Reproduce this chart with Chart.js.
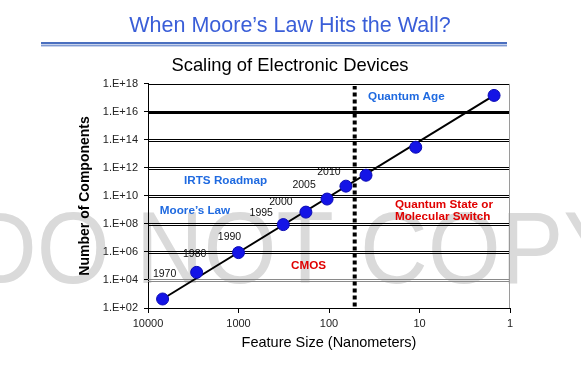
<!DOCTYPE html>
<html>
<head>
<meta charset="utf-8">
<title>When Moore's Law Hits the Wall?</title>
<script src="https://cdn.jsdelivr.net/npm/chart.js@4.4.1/dist/chart.umd.min.js"></script>
<style>
    body { margin: 0; background: #fff; }
    #wrap { width: 581px; height: 384px; }
</style>
</head>
<body>
<div id="wrap"><canvas id="mooreChart" width="581" height="384"></canvas></div>
<script>
// values: feature size (nm) vs number of components
const years = ['1970', '1980', '1990', '1995', '2000', '2005', '2010', '', '', ''];
const featureSize = [6900, 2900, 1000, 320, 180, 105, 65, 39, 11, 1.5];
const components = [440, 3.5e4, 9e5, 9e7, 7e8, 6e9, 5e10, 3e11, 3e13, 1.5e17];

// straight trend line (end points)
const fitSize = [6900, 1.5];
const fitComponents = [440, 1.5e17];

// the wall
const wallSize = 52;
const wallComponents = [1.3e2, 7e17];

const xTicks = [10000, 1000, 100, 10, 1];
const xTickLabels = ['10000', '1000', '100', '10', '1'];
const yTicks = [1e2, 1e4, 1e6, 1e8, 1e10, 1e12, 1e14, 1e16, 1e18];
const yTickLabels = ['1.E+02', '1.E+04', '1.E+06', '1.E+08', '1.E+10', '1.E+12', '1.E+14', '1.E+16', '1.E+18'];

const FONT = "'Liberation Sans', Arial, sans-serif";
const BLUE_TEXT = '#1f6ae0';
const RED_TEXT = '#e00000';

// region annotations, placed in data coordinates
const regions = [
    { lines: ['Quantum Age'], x: 37, y: 1.2e17, color: BLUE_TEXT },
    { lines: ['IRTS Roadmap'], x: 4000, y: 1.2e11, color: BLUE_TEXT },
    { lines: ['Moore\u2019s Law'], x: 7400, y: 8.5e8, color: BLUE_TEXT },
    { lines: ['Quantum State or', 'Molecular Switch'], x: 18.7, y: 2.3e9, color: RED_TEXT },
    { lines: ['CMOS'], x: 263, y: 1e5, color: RED_TEXT }
];

// where each year label sits relative to its point (px)
const labelOffsets = [[2, -25], [-2, -18], [-9, -16], [-22, -11], [-25, -10], [-23, -14], [-17, -14]];

const watermark = {
    id: 'watermark',
    beforeDraw(chart) {
        const ctx = chart.ctx;
        ctx.save();
        ctx.fillStyle = '#dadada';
        ctx.font = '102px ' + FONT;
        ctx.textBaseline = 'alphabetic';
        ctx.textAlign = 'left';
        ctx.translate(-31, 283);
        ctx.scale(0.92, 1);
        ctx.fillText('DO NOT COPY', 0, 0);
        ctx.restore();

        // double rule under the slide title
        ctx.save();
        ctx.fillStyle = '#4a6fbf';
        ctx.fillRect(41, 42, 466, 2.3);
        ctx.fillRect(41, 45.3, 466, 1);
        ctx.restore();
    }
};

const gridLines = {
    id: 'gridLines',
    beforeDatasetsDraw(chart) {
        const ctx = chart.ctx;
        const { left, right, top, bottom } = chart.chartArea;
        const w = right - left;
        const yScale = chart.scales.y;
        ctx.save();
        yTicks.forEach(v => {
            const py = Math.round(yScale.getPixelForValue(v));
            if (v === 1e2) return;
            if (v === 1e18) {
                ctx.fillStyle = '#000';
                ctx.fillRect(left, py, w, 1);
            } else if (v === 1e16) {
                ctx.fillStyle = '#000';
                ctx.fillRect(left, py - 1, w, 3);
            } else {
                ctx.fillStyle = v === 1e4 ? '#8a8a8a' : '#000';
                ctx.fillRect(left, py - 1, w, 1);
                ctx.fillRect(left, py + 1, w, 1);
            }
        });
        ctx.fillStyle = '#9a9a9a';
        ctx.fillRect(right - 1, top, 1, bottom - top);
        ctx.restore();
    }
};

const textLabels = {
    id: 'textLabels',
    afterDatasetsDraw(chart) {
        const ctx = chart.ctx;
        const xs = chart.scales.x, ys = chart.scales.y;
        ctx.save();
        ctx.textBaseline = 'middle';

        ctx.textAlign = 'center';
        ctx.font = '10.5px ' + FONT;
        ctx.fillStyle = '#111';
        years.forEach((yr, i) => {
            if (!yr) return;
            const px = xs.getPixelForValue(featureSize[i]) + labelOffsets[i][0];
            const py = ys.getPixelForValue(components[i]) + labelOffsets[i][1];
            ctx.fillText(yr, px, py);
        });

        ctx.textAlign = 'left';
        ctx.font = 'bold 11.7px ' + FONT;
        regions.forEach(r => {
            const px = xs.getPixelForValue(r.x);
            const py = ys.getPixelForValue(r.y);
            ctx.fillStyle = r.color;
            r.lines.forEach((t, k) => ctx.fillText(t, px, py + k * 12));
        });
        ctx.restore();
    }
};

const data = {
    datasets: [{
        label: 'Devices',
        data: featureSize.map((s, i) => ({ x: s, y: components[i] })),
        showLine: false,
        pointRadius: 6,
        pointHoverRadius: 6,
        pointBackgroundColor: '#1414e6',
        pointBorderColor: '#0a0ab4',
        pointBorderWidth: 1,
        order: 0
    }, {
        label: 'Trend',
        data: fitSize.map((s, i) => ({ x: s, y: fitComponents[i] })),
        showLine: true,
        borderColor: '#000',
        borderWidth: 2,
        pointRadius: 0,
        order: 1
    }, {
        label: 'Wall',
        data: wallComponents.map(c => ({ x: wallSize, y: c })),
        showLine: true,
        borderColor: '#000',
        borderWidth: 4,
        borderDash: [4, 3],
        borderCapStyle: 'butt',
        pointRadius: 0,
        order: 2
    }]
};

const config = {
    type: 'scatter',
    data,
    plugins: [watermark, gridLines, textLabels],
    options: {
        responsive: false,
        animation: false,
        layout: { padding: { left: 70, right: 71, top: 0, bottom: 30 } },
        plugins: {
            legend: { display: false },
            tooltip: { enabled: false },
            title: {
                display: true,
                text: 'When Moore\u2019s Law Hits the Wall?',
                color: '#3a5ed8',
                font: { family: FONT, size: 21.5, weight: 'normal' },
                padding: { top: 13, bottom: 16 }
            },
            subtitle: {
                display: true,
                text: 'Scaling of Electronic Devices',
                color: '#000',
                font: { family: FONT, size: 18.4, weight: 'normal' },
                padding: { top: 0, bottom: 7 }
            }
        },
        scales: {
            x: {
                type: 'logarithmic',
                reverse: true,
                min: 1,
                max: 10000,
                afterBuildTicks: s => { s.ticks = xTicks.map(v => ({ value: v })); },
                afterFit: s => { s.height = 46; },
                ticks: {
                    callback: v => xTickLabels[xTicks.indexOf(v)],
                    color: '#222',
                    font: { family: FONT, size: 11 },
                    padding: 4,
                    maxRotation: 0,
                    autoSkip: false
                },
                grid: { drawOnChartArea: false, drawTicks: true, tickLength: 5, color: '#000' },
                border: { display: true, color: '#000', width: 1 },
                title: {
                    display: true,
                    text: 'Feature Size (Nanometers)',
                    color: '#000',
                    font: { family: FONT, size: 14.5 },
                    padding: { top: 0, bottom: 2 }
                }
            },
            y: {
                type: 'logarithmic',
                min: 1e2,
                max: 1e18,
                afterBuildTicks: s => { s.ticks = yTicks.map(v => ({ value: v })); },
                afterFit: s => { s.width = 78; },
                ticks: {
                    callback: v => yTickLabels[yTicks.indexOf(v)],
                    color: '#222',
                    font: { family: FONT, size: 11 },
                    padding: 6,
                    autoSkip: false
                },
                grid: { drawOnChartArea: false, drawTicks: true, tickLength: 4, color: '#000' },
                border: { display: true, color: '#000', width: 1 },
                title: {
                    display: true,
                    text: 'Number of Components',
                    color: '#000',
                    font: { family: FONT, size: 14, weight: 'bold' },
                    padding: { top: 6.6, bottom: 0 }
                }
            }
        }
    }
};

const mooreChart = new Chart(document.getElementById('mooreChart'), config);
</script>
</body>
</html>
